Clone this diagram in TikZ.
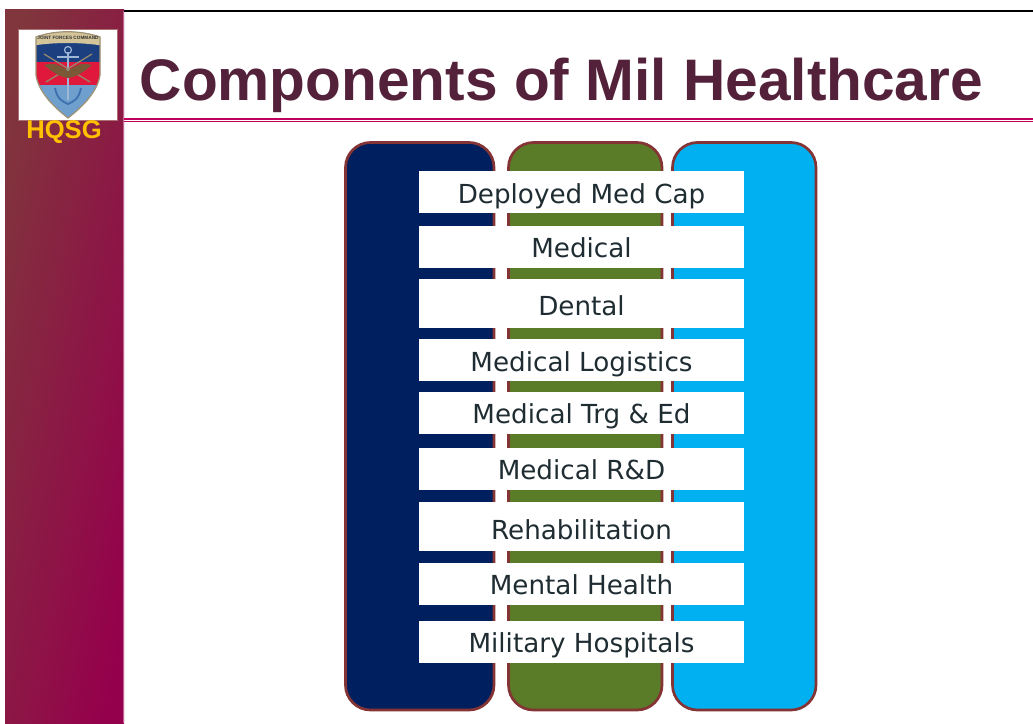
\documentclass[tikz,border=0pt]{standalone}
\usepackage{fontspec}
\setmainfont{Liberation Sans}
\newfontfamily\rowfont{DejaVu Sans}
\definecolor{sideA}{HTML}{80363C}
\definecolor{sideB}{HTML}{95004C}
\definecolor{titlecol}{HTML}{54213A}
\definecolor{rulecol}{HTML}{C0005E}
\definecolor{edgecol}{HTML}{843434}
\definecolor{navy}{HTML}{001F5F}
\definecolor{leaf}{HTML}{5A7B28}
\definecolor{sky}{HTML}{00B0F0}
\definecolor{rowtext}{HTML}{1F2D33}
\definecolor{hq}{HTML}{FFC000}
\definecolor{shA}{HTML}{1C3F80}
\definecolor{shB}{HTML}{E0183C}
\definecolor{shC}{HTML}{6F9FCC}
\definecolor{gold}{HTML}{D4C49A}
\definecolor{anchorblue}{HTML}{3C6FB0}
\definecolor{wing}{HTML}{7A5A36}
\tikzset{
 panel/.style={draw=edgecol,line width=2.7pt,rounded corners=25pt},
 rowtextstyle/.style={font=\rowfont\fontsize{26.2}{26}\selectfont,text=rowtext,inner sep=0pt,anchor=base}
}
\begin{document}
\begin{tikzpicture}[x=1pt,y=-1pt]
\useasboundingbox (0,0) rectangle (1033,723);
\fill[white] (0,0) rectangle (1033,723);
% frame
\shade[left color=sideA,right color=sideB,shading angle=78] (5,9) rectangle (124,723);
\fill[sideB!60!white] (123.4,11) rectangle (124.2,723);
\fill[black] (124,9.5) rectangle (1033,12);
\fill[rulecol] (124,118.2) rectangle (1033,119.8);
\fill[rulecol] (124,120.6) rectangle (1033,122.2);
% crest
\draw[fill=white,draw=edgecol!70!white,line width=0.8pt] (18.5,29) rectangle (117,120);
\begin{scope}
\clip (36,37) .. controls (55,30) and (80,30) .. (100,37) -- (100,75) .. controls (98,90) and (85,105) .. (68,118) .. controls (51,105) and (38,90) .. (36,75) -- cycle;
\fill[shA] (30,28) rectangle (105,62);
\fill[shB] (30,62) rectangle (105,85);
\fill[shC] (30,85) rectangle (105,120);
\fill[gold] (30,28) -- (105,28) -- (105,46) .. controls (80,42) and (55,42) .. (30,46) -- cycle;
\end{scope}
\draw[gold!75!black,line width=1.2pt] (36,37) .. controls (55,30) and (80,30) .. (100,37) -- (100,75) .. controls (98,90) and (85,105) .. (68,118) .. controls (51,105) and (38,90) .. (36,75) -- cycle;
\node[font=\fontsize{4.7}{5}\bfseries,text=black!80,inner sep=0pt] (crestlabel) at (68,38) {JOINT FORCES COMMAND};
\draw[anchorblue!50!white,line width=1.5pt] (68,52) -- (68,100) (57,57) -- (79,57);
\draw[anchorblue!50!white,line width=1.2pt] (68,50) circle (3.5);
\draw[anchorblue,line width=1.8pt] (55,88) .. controls (57,99) and (63,102) .. (68,104) .. controls (73,102) and (79,99) .. (81,88);
\draw[gold!70!black,line width=1.3pt] (44,54) -- (90,82) (92,54) -- (46,82);
\fill[wing] (44,65) .. controls (55,62) and (62,66) .. (68,71) .. controls (74,66) and (81,62) .. (92,65) .. controls (84,72) and (76,77) .. (68,78) .. controls (60,77) and (52,72) .. (44,65) -- cycle;
\node[font=\fontsize{25.6}{26}\bfseries,text=hq,inner sep=0pt] (hqsg) at (64,132.5) {HQSG};
% title
\node[font=\fontsize{58.6}{60}\bfseries,text=titlecol,inner sep=0pt,anchor=base west] (title) at (139.5,100) {Components of Mil Healthcare};
% panels
\filldraw[panel,fill=navy] (345.5,142.5) rectangle (494,710);
\filldraw[panel,fill=leaf] (508.5,142.5) rectangle (662,710);
\filldraw[panel,fill=sky] (672.5,142.5) rectangle (816,710);
% rows
\foreach \nm/\top/\bot/\base/\txt in {a/171/213/203/Deployed Med Cap,b/226/268/257/Medical,c/279/328/315/Dental,d/339/381/371/Medical Logistics,e/392/434/423/Medical Trg \& Ed,f/448/490/479/Medical R\&D,g/502/551/539/Rehabilitation,h/563/605/594/Mental Health,i/621/663/652/Military Hospitals}{
 \fill[white] (419,\top) rectangle (744,\bot);
 \node[rowtextstyle] (\nm) at (581.5,\base) {\txt};
}
\end{tikzpicture}
\end{document}
